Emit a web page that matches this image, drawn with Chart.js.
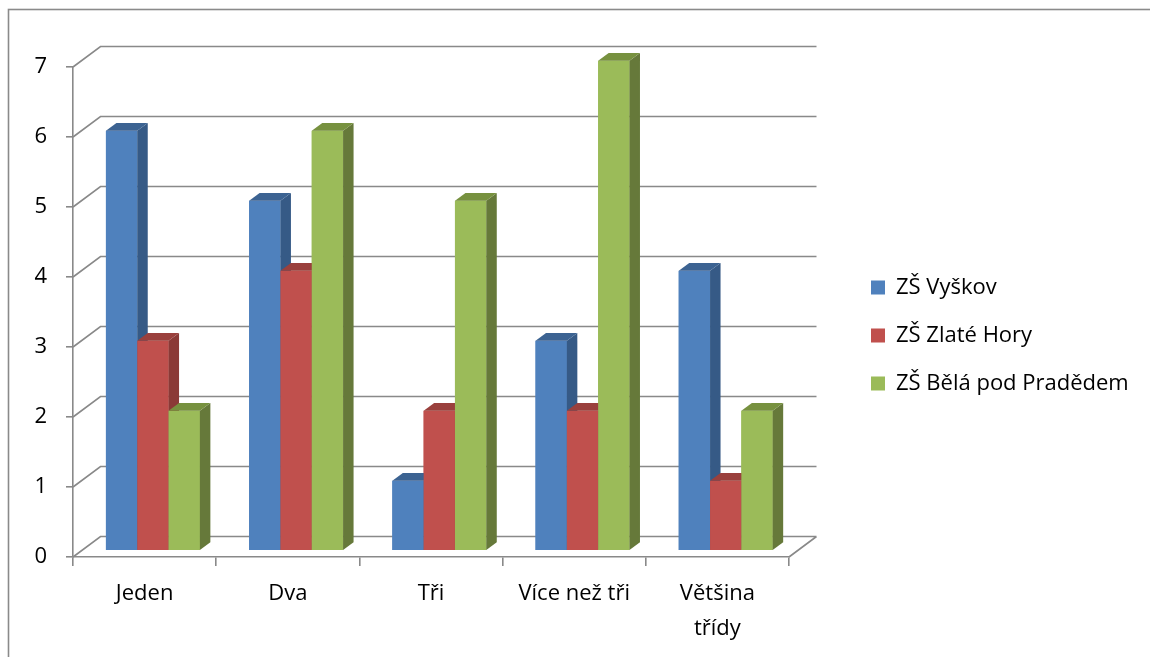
<!DOCTYPE html>
<html>
<head>
<meta charset="utf-8">
<script src="https://cdn.jsdelivr.net/npm/chart.js@4.4.1/dist/chart.umd.min.js"></script>
<style>
  html, body { margin: 0; padding: 0; background: #ffffff; }
  #wrap { width: 1150px; height: 657px; }
  canvas { display: block; }
</style>
</head>
<body>
<div id="wrap"><canvas id="chart" width="1150" height="657"></canvas></div>
<script>
// ---- data ----
const categories = ['Jeden', 'Dva', 'Tři', 'Více než tři', ['Většina', 'třídy']];
const seriesNames = ['ZŠ Vyškov', 'ZŠ Zlaté Hory', 'ZŠ Bělá pod Pradědem'];
const vyskov = [6, 5, 1, 3, 4];
const zlateHory = [3, 4, 2, 2, 1];
const belaPodPradedem = [2, 6, 5, 7, 2];
const yTickValues = [0, 1, 2, 3, 4, 5, 6, 7];

// ---- styles ----
const FONT = '"Open Sans", "Noto Sans", "Liberation Sans", sans-serif';
const FONT_SIZE = 22;
const FRONT = ['#4F81BD', '#C0504D', '#9BBB59'];
const SIDE = ['#365A86', '#8B3A37', '#66793A'];
const TOP = ['#3C6392', '#9A403D', '#77913F'];
const GRID = '#898989';
const WALL = { dx: 27.5, dy: -20.5 };
const BARPLANE = { dx: 8.3, dy: -6.2 };
const BARDEPTH = { dx: 10.5, dy: -7.7 };
const PLOT_RIGHT = 789;
const LEGEND_PAD = 26;
const LEGEND_LEFT = 871 - LEGEND_PAD;
const BOX = 14;

// legend width so that its items start at LEGEND_LEFT + LEGEND_PAD
const mctx = document.createElement('canvas').getContext('2d');
mctx.font = FONT_SIZE + 'px ' + FONT;
const longest = Math.max(...seriesNames.map(s => mctx.measureText(s).width));
const legendWidth = LEGEND_PAD + BOX + FONT_SIZE / 2 + longest + 10;
const padRight = Math.max(0, 1150 - LEGEND_LEFT - legendWidth);

const threeD = {
  id: 'threeD',
  beforeDraw(chart) {
    const ctx = chart.ctx;
    ctx.save();
    ctx.strokeStyle = '#8a8a8a';
    ctx.lineWidth = 1.6;
    ctx.strokeRect(8.5, 9.5, 1400, 900);
    ctx.restore();
  },
  beforeDatasetsDraw(chart) {
    const { ctx, chartArea: a, scales: { y } } = chart;
    ctx.save();
    ctx.strokeStyle = GRID;
    ctx.lineWidth = 1.6;
    ctx.beginPath();
    y.ticks.forEach(t => {
      const py = y.getPixelForValue(t.value);
      ctx.moveTo(a.left, py);
      ctx.lineTo(a.left + WALL.dx, py + WALL.dy);
      ctx.lineTo(a.right + WALL.dx, py + WALL.dy);
    });
    const pb = y.getPixelForValue(0);
    ctx.moveTo(a.right, pb);
    ctx.lineTo(a.right + WALL.dx, pb + WALL.dy);
    ctx.stroke();
    ctx.restore();
  },
  beforeDatasetDraw(chart) {
    chart.ctx.save();
    chart.ctx.translate(BARPLANE.dx, BARPLANE.dy);
  },
  afterDatasetDraw(chart) {
    chart.ctx.restore();
  },
  afterDatasetsDraw(chart) {
    // re-draw every box (front, side, top) from the library's bar elements,
    // left to right, so that nearer faces hide farther ones
    const ctx = chart.ctx;
    const metas = chart.data.datasets.map((d, i) => chart.getDatasetMeta(i));
    ctx.save();
    ctx.translate(BARPLANE.dx, BARPLANE.dy);
    categories.forEach((c, j) => {
      metas.forEach((meta, i) => {
        const el = meta.data[j];
        if (!el) return;
        const { x, y, base, width } = el.getProps(['x', 'y', 'base', 'width'], true);
        const x0 = x - width / 2, x1 = x + width / 2;
        ctx.fillStyle = FRONT[i];
        ctx.fillRect(x0, y, width, base - y);
        ctx.fillStyle = SIDE[i];
        ctx.beginPath();
        ctx.moveTo(x1, base);
        ctx.lineTo(x1, y);
        ctx.lineTo(x1 + BARDEPTH.dx, y + BARDEPTH.dy);
        ctx.lineTo(x1 + BARDEPTH.dx, base + BARDEPTH.dy);
        ctx.closePath();
        ctx.fill();
        ctx.fillStyle = TOP[i];
        ctx.beginPath();
        ctx.moveTo(x0, y);
        ctx.lineTo(x1, y);
        ctx.lineTo(x1 + BARDEPTH.dx, y + BARDEPTH.dy);
        ctx.lineTo(x0 + BARDEPTH.dx, y + BARDEPTH.dy);
        ctx.closePath();
        ctx.fill();
      });
    });
    ctx.restore();
  }
};

const seriesData = [vyskov, zlateHory, belaPodPradedem];
const datasets = seriesNames.map((name, i) => ({
  label: name,
  data: seriesData[i],
  backgroundColor: FRONT[i],
  borderWidth: 0,
  clip: false,
  categoryPercentage: 0.656,
  barPercentage: 1.0
}));

new Chart(document.getElementById('chart'), {
  type: 'bar',
  data: { labels: categories, datasets },
  plugins: [threeD],
  options: {
    responsive: false,
    maintainAspectRatio: false,
    animation: false,
    devicePixelRatio: 1,
    layout: { padding: { left: 0, top: 0, bottom: 0, right: padRight } },
    plugins: {
      tooltip: { enabled: false },
      title: {
        display: true, text: ' ', fullSize: false,
        font: { size: 10 }, padding: { top: 55, bottom: 0 }
      },
      legend: {
        position: 'right',
        align: 'center',
        maxWidth: 600,
        title: { display: true, text: ' ', font: { size: 10 }, padding: { top: 1, bottom: 1 } },
        labels: {
          boxWidth: BOX, boxHeight: BOX, padding: LEGEND_PAD, color: '#000000',
          font: { family: FONT, size: FONT_SIZE }
        }
      }
    },
    scales: {
      x: {
        grid: { display: true, drawOnChartArea: false, drawTicks: true, tickLength: 9, color: GRID, lineWidth: 1.6, offset: true },
        border: { display: true, color: GRID, width: 1.6 },
        ticks: { color: '#000000', font: { family: FONT, size: FONT_SIZE, lineHeight: 1.6 }, padding: 10, maxRotation: 0, autoSkip: false },
        afterFit: s => { s.height = 100; }
      },
      y: {
        min: 0, max: 7,
        ticks: { stepSize: 1, color: '#000000', font: { family: FONT, size: FONT_SIZE }, padding: 19 },
        afterBuildTicks: s => { s.ticks = yTickValues.map(v => ({ value: v })); },
        grid: { display: true, drawOnChartArea: false, tickLength: 7, color: GRID, lineWidth: 1.6 },
        border: { display: true, color: GRID, width: 1.6 },
        afterFit: s => { s.width = 73; }
      },
      spacer: {
        type: 'linear', position: 'right', display: true,
        ticks: { display: false }, grid: { display: false, drawTicks: false }, border: { display: false },
        afterFit: s => { s.width = LEGEND_LEFT - PLOT_RIGHT; }
      }
    }
  }
});
</script>
</body>
</html>
